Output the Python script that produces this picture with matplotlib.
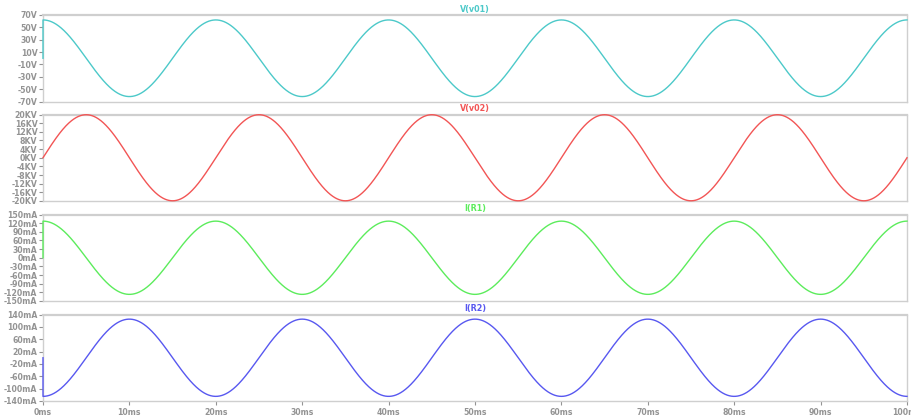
import numpy as np
import matplotlib
matplotlib.use("Agg")
import matplotlib.pyplot as plt

# Transient analysis: 0 .. 100 ms, 50 Hz sinusoidal sources
t_stop_ms = 100.0
freq_hz = 50.0

trace_names = ["V(v01)", "V(v02)", "I(R1)", "I(R2)"]
trace_colors = ["#4cc9c9", "#f25555", "#5cec5c", "#5858f0"]
# peak amplitude, phase (deg, cosine reference), value at t=0
amplitudes = [62.0, 19.9, 127.0, 125.0]
phases_deg = [0.0, -90.0, 0.0, 180.0]
initial_values = [0.0, 0.0, 0.0, 0.0]

y_limits = [(-70, 70), (-20, 20), (-150, 150), (-140, 140)]
y_ticks = [
    [-70, -50, -30, -10, 10, 30, 50, 70],
    [-20, -16, -12, -8, -4, 0, 4, 8, 12, 16, 20],
    [-150, -120, -90, -60, -30, 0, 30, 60, 90, 120, 150],
    [-140, -100, -60, -20, 20, 60, 100, 140],
]
y_units = ["V", "KV", "mA", "mA"]
x_ticks_ms = [0, 10, 20, 30, 40, 50, 60, 70, 80, 90, 100]

W, H = 911, 417
fig = plt.figure(figsize=(W / 100, H / 100), dpi=100)
fig.patch.set_facecolor("white")

left_px, right_px = 43, 907
tops_px = [15, 114.5, 214.5, 314.5]
height_px = 86.5

grid_grey = "#cfcfcf"
label_grey = "#939393"

t = np.linspace(0.0, t_stop_ms, 4001)
for i in range(4):
    top = tops_px[i]
    ax = fig.add_axes([left_px / W, 1 - (top + height_px) / H,
                       (right_px - left_px) / W, height_px / H])
    y = amplitudes[i] * np.cos(2 * np.pi * freq_hz * t / 1000.0
                               + np.deg2rad(phases_deg[i]))
    # simulation starts from its initial operating point
    tt = np.concatenate([[0.0], t])
    yy = np.concatenate([[initial_values[i]], y])
    ax.plot(tt, yy, color=trace_colors[i], lw=1.0, solid_joinstyle="round",
            zorder=3, clip_on=False)
    ax.set_xlim(0, t_stop_ms)
    ax.set_ylim(*y_limits[i])
    ax.set_yticks(y_ticks[i])
    ax.set_yticklabels([f"{v}{y_units[i]}" for v in y_ticks[i]])
    for s in ax.spines.values():
        s.set_color(grid_grey)
        s.set_linewidth(1.0)
        s.set_zorder(2)
    ax.spines["top"].set_linewidth(1.6)
    ax.tick_params(axis="y", length=3, width=0.8, color=label_grey,
                   labelsize=5.6, labelcolor=label_grey, pad=1)
    for lab in ax.get_yticklabels():
        lab.set_fontweight("bold")
    if i == 3:
        ax.set_xticks(x_ticks_ms)
        ax.set_xticklabels([f"{v}ms" for v in x_ticks_ms])
        ax.tick_params(axis="x", length=3, width=0.8, color=label_grey,
                       labelsize=5.6, labelcolor=label_grey, pad=2)
        for lab in ax.get_xticklabels():
            lab.set_fontweight("bold")
    else:
        ax.set_xticks([])
    ax.set_title(trace_names[i], color=trace_colors[i], fontsize=5.8,
                 fontweight="bold", pad=2.5)

fig.savefig("out.png", dpi=100)
